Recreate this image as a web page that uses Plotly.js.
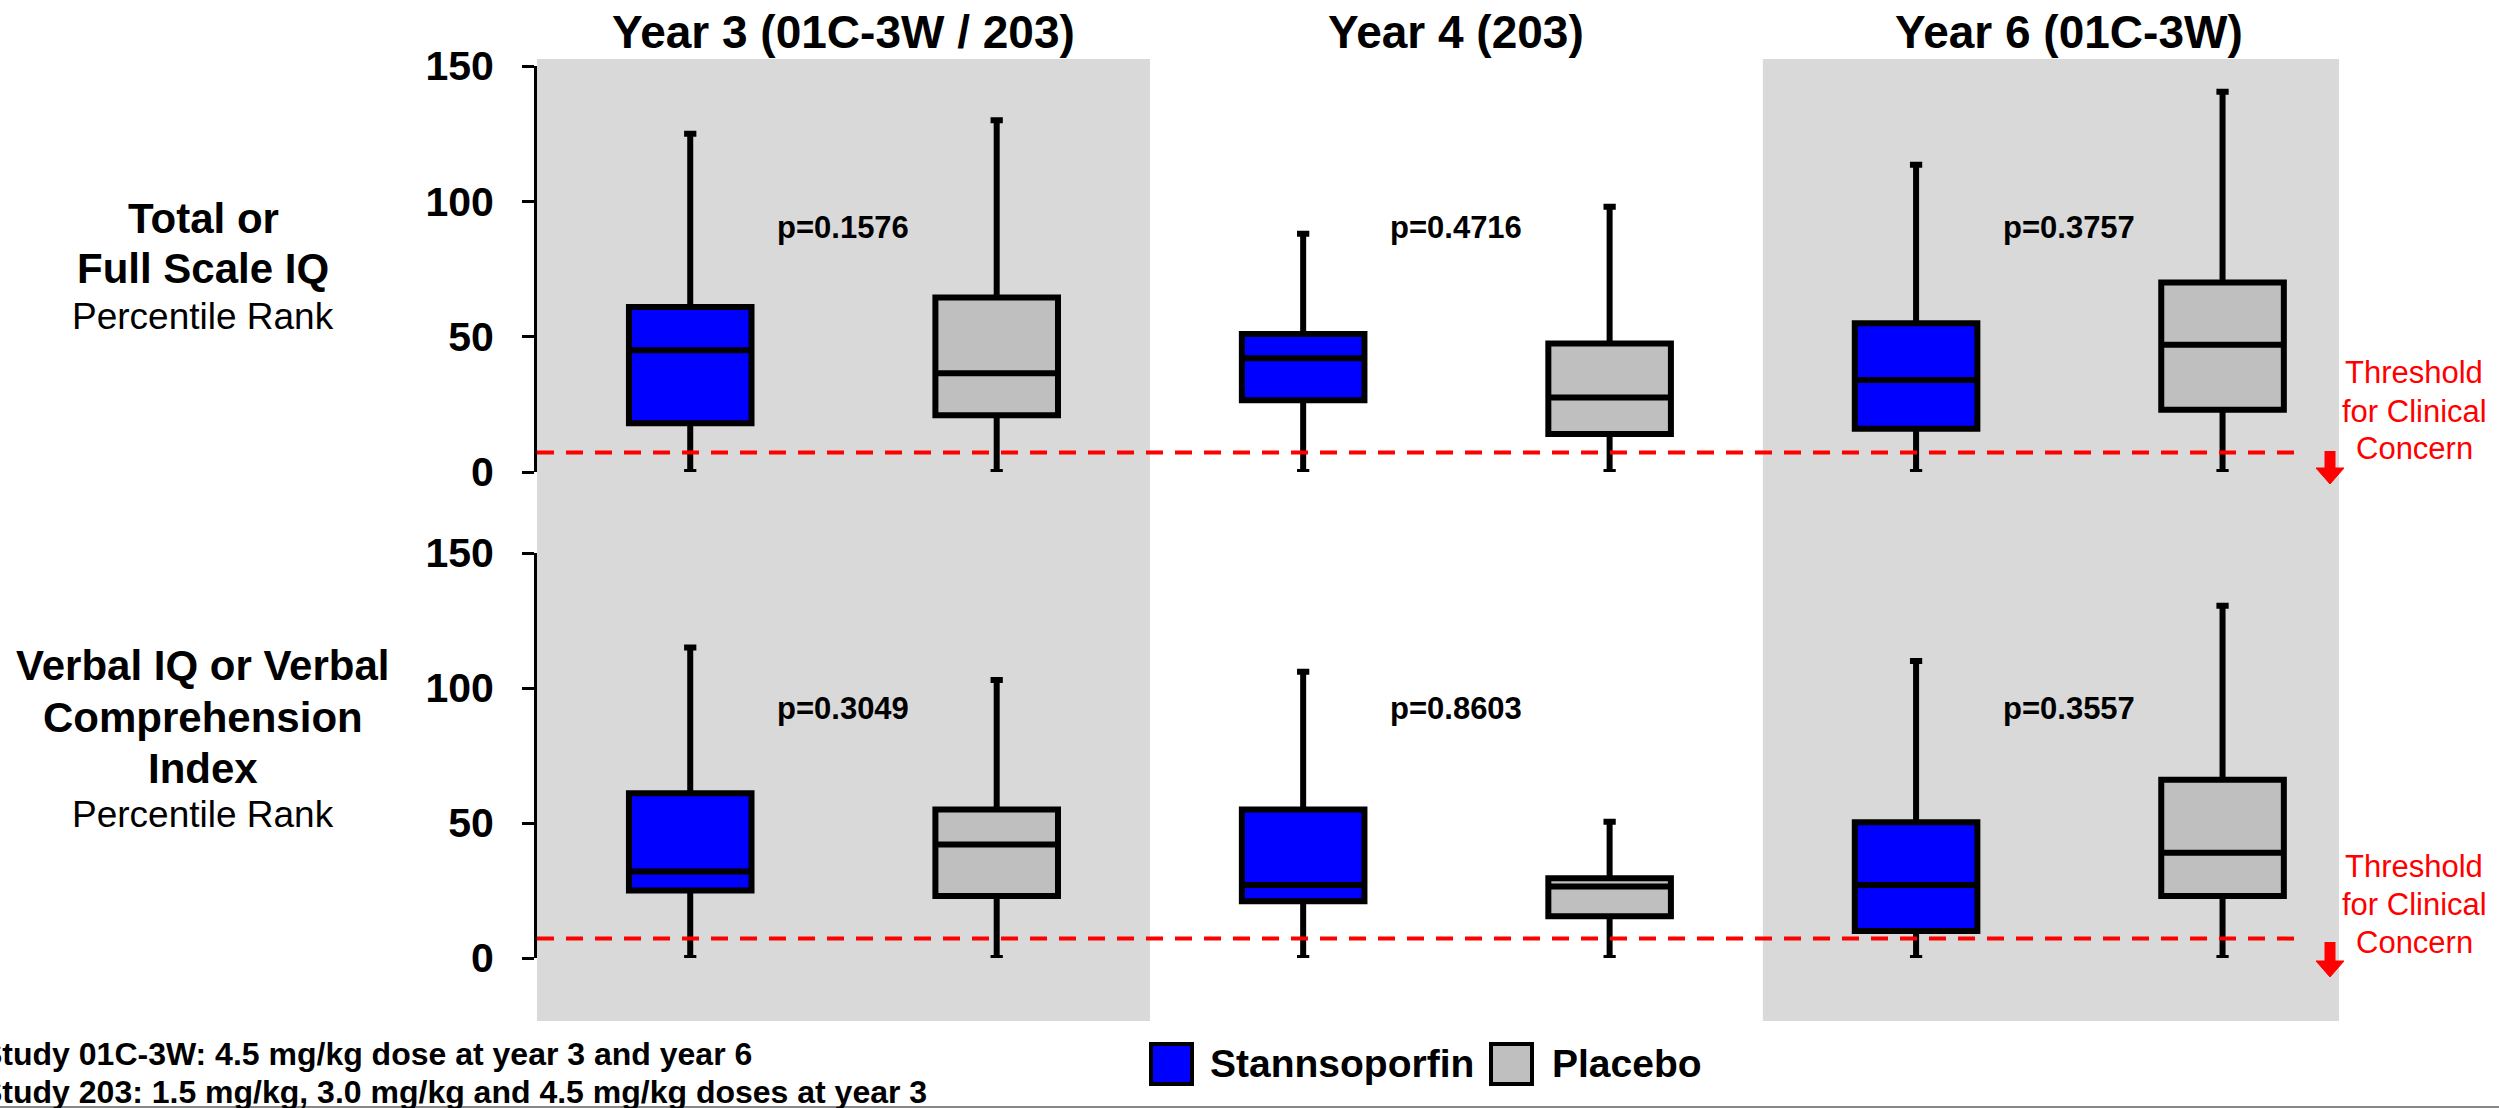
<!DOCTYPE html>
<html>
<head>
<meta charset="utf-8">
<script src="https://cdn.plot.ly/plotly-3.0.1.min.js"></script>
<style>html,body{margin:0;padding:0;background:#fff;}#chart{width:2499px;height:1108px;}</style>
</head>
<body>
<div id="chart"></div>
<script>
// ---------- DATA ----------
const periods = ['Year 3 (01C-3W / 203)', 'Year 4 (203)', 'Year 6 (01C-3W)'];
const seriesNames = ['Stannsoporfin', 'Placebo'];
const xStann = [0, 2, 4];
const xPlac = [1, 3, 5];
const xMid = [0.5, 2.5, 4.5];

// Total / Full Scale IQ percentile rank
const fsiqStannMin = [0, 0, 0];
const fsiqStannQ1 = [18, 26.5, 16];
const fsiqStannMed = [45, 42, 34];
const fsiqStannQ3 = [61, 51, 55];
const fsiqStannMax = [125, 88, 113.5];
const fsiqPlacMin = [0, 0, 0];
const fsiqPlacQ1 = [21, 14, 23];
const fsiqPlacMed = [36.5, 27.5, 47];
const fsiqPlacQ3 = [64.5, 47.5, 70];
const fsiqPlacMax = [130, 98, 140.5];
const fsiqP = ['p=0.1576', 'p=0.4716', 'p=0.3757'];

// Verbal IQ / Verbal Comprehension Index percentile rank
const viqStannMin = [0, 0, 0];
const viqStannQ1 = [25, 21, 10];
const viqStannMed = [32, 27, 27];
const viqStannQ3 = [61, 55, 50.3];
const viqStannMax = [115, 106, 110];
const viqPlacMin = [0, 0, 0];
const viqPlacQ1 = [23, 15.5, 23];
const viqPlacMed = [42, 26.5, 39];
const viqPlacQ3 = [55, 29.5, 66];
const viqPlacMax = [103, 50.5, 130.5];
const viqP = ['p=0.3049', 'p=0.8603', 'p=0.3557'];

const threshold = 7.2;
const yTicks = [0, 50, 100, 150];
const footnotes = ['Study 01C-3W: 4.5 mg/kg dose at year 3 and year 6',
                   'Study 203: 1.5 mg/kg, 3.0 mg/kg and 4.5 mg/kg doses at year 3'];

// ---------- STYLE ----------
const FONT = 'Liberation Sans, Arial, sans-serif';
const BLUE = '#0000FF', GRAYBOX = '#BFBFBF', BAND = '#D9D9D9', RED = '#FF0000';
const W = 2499, H = 1108, ML = 537, MR = 160, MT = 59, MB = 87;
const PW = W - ML - MR, PH = H - MT - MB;
const xp = px => (px - ML) / PW;
const yp = py => (H - MB - py) / PH;

function box(name, x, q1, med, q3, lo, hi, color, yaxis) {
  return {
    type: 'box', name: name, x: x, q1: q1, median: med, q3: q3,
    lowerfence: lo, upperfence: hi, yaxis: yaxis, xaxis: 'x',
    fillcolor: color, line: {color: '#000', width: 6},
    width: 0.4, whiskerwidth: 0.1, boxpoints: false,
    hoverinfo: 'skip', showlegend: false
  };
}

const data = [
  box(seriesNames[0], xStann, fsiqStannQ1, fsiqStannMed, fsiqStannQ3, fsiqStannMin, fsiqStannMax, BLUE, 'y'),
  box(seriesNames[1], xPlac, fsiqPlacQ1, fsiqPlacMed, fsiqPlacQ3, fsiqPlacMin, fsiqPlacMax, GRAYBOX, 'y'),
  box(seriesNames[0], xStann, viqStannQ1, viqStannMed, viqStannQ3, viqStannMin, viqStannMax, BLUE, 'y2'),
  box(seriesNames[1], xPlac, viqPlacQ1, viqPlacMed, viqPlacQ3, viqPlacMin, viqPlacMax, GRAYBOX, 'y2')
];

const yAxisBase = {
  range: [0, 150], tickvals: yTicks, ticktext: yTicks.map(String),
  showline: true, linecolor: '#000', linewidth: 3,
  ticks: 'outside', ticklen: 12, tickwidth: 3, tickcolor: '#000',
  showgrid: false, zeroline: false, anchor: 'x',
  tickfont: {family: FONT, size: 41, color: '#000', weight: 'bold'},
  ticklabelstandoff: 20, fixedrange: true
};

const shapes = [];
// gray bands for year 3 and year 6
[[-0.5, 1.5], [3.5, 5.38]].forEach(b => shapes.push({
  type: 'rect', xref: 'x', yref: 'paper', x0: b[0], x1: b[1], y0: 0, y1: 1,
  fillcolor: BAND, line: {width: 0}, layer: 'below'
}));
// threshold lines
['y', 'y2'].forEach(ya => shapes.push({
  type: 'line', xref: 'x', yref: ya, x0: -0.5, x1: 5.26, y0: threshold, y1: threshold,
  line: {color: RED, width: 4, dash: '17px,12px'}, layer: 'above'
}));
// red arrows
[[451, 484], [942, 977]].forEach(a => {
  const ax = 2330;
  shapes.push({type: 'line', xref: 'paper', yref: 'paper', x0: xp(ax), x1: xp(ax),
    y0: yp(a[0]), y1: yp(a[1] - 14), line: {color: RED, width: 11}});
  shapes.push({type: 'path', xref: 'paper', yref: 'paper',
    path: `M ${xp(ax - 14)} ${yp(a[1] - 16)} L ${xp(ax + 14)} ${yp(a[1] - 16)} L ${xp(ax)} ${yp(a[1])} Z`,
    fillcolor: RED, line: {color: RED, width: 1}});
});
// legend squares
[[1151, BLUE], [1491, GRAYBOX]].forEach(s => shapes.push({
  type: 'rect', xref: 'paper', yref: 'paper', x0: xp(s[0]), x1: xp(s[0] + 41),
  y0: yp(1044), y1: yp(1084), fillcolor: s[1], line: {color: '#000', width: 4}
}));
// bottom border line
shapes.push({type: 'line', xref: 'paper', yref: 'paper', x0: xp(0), x1: xp(W), y0: yp(1107), y1: yp(1107),
  line: {color: '#888', width: 2}});

const annotations = [];
function txt(text, x, y, size, opts) {
  annotations.push(Object.assign({
    text: text, x: x, y: y, xref: 'paper', yref: 'paper', showarrow: false,
    xanchor: 'center', yanchor: 'middle',
    font: {family: FONT, size: size, color: '#000'}
  }, opts || {}));
}
// column titles
periods.forEach((p, i) => annotations.push({
  text: '<b>' + p + '</b>', x: xMid[i], xref: 'x', y: yp(32), yref: 'paper', showarrow: false,
  xanchor: 'center', yanchor: 'middle', font: {family: FONT, size: 46, color: '#000'}
}));
// p-values
fsiqP.forEach((p, i) => annotations.push({
  text: '<b>' + p + '</b>', x: xMid[i], xref: 'x', y: yp(227), yref: 'paper', showarrow: false,
  xanchor: 'center', yanchor: 'middle', font: {family: FONT, size: 31, color: '#000'}
}));
viqP.forEach((p, i) => annotations.push({
  text: '<b>' + p + '</b>', x: xMid[i], xref: 'x', y: yp(708), yref: 'paper', showarrow: false,
  xanchor: 'center', yanchor: 'middle', font: {family: FONT, size: 31, color: '#000'}
}));
// row labels
const LX = xp(203);
txt('<b>Total or</b>', LX, yp(218), 42);
txt('<b>Full Scale IQ</b>', LX, yp(268), 42);
txt('Percentile Rank', LX, yp(316), 37);
txt('<b>Verbal IQ or Verbal</b>', LX, yp(665), 42);
txt('<b>Comprehension</b>', LX, yp(717), 42);
txt('<b>Index</b>', LX, yp(768), 42);
txt('Percentile Rank', LX, yp(815), 37);
// threshold labels
[[373, 411, 449], [866, 904, 942]].forEach(ys => {
  ['Threshold', 'for Clinical', 'Concern'].forEach((t, k) =>
    txt(t, xp(2414), yp(ys[k]), 31, {font: {family: FONT, size: 31, color: RED}}));
});
// legend labels
txt('<b>' + seriesNames[0] + '</b>', xp(1208), yp(1063), 39, {xanchor: 'left'});
txt('<b>' + seriesNames[1] + '</b>', xp(1550), yp(1063), 39, {xanchor: 'left'});
// footnotes (cut off at the left edge as in the original slide)
txt('<b>' + footnotes[0] + '</b>', xp(-21), yp(1054), 32, {xanchor: 'left'});
txt('<b>' + footnotes[1] + '</b>', xp(-21), yp(1092), 32, {xanchor: 'left'});

const layout = {
  width: W, height: H,
  margin: {l: ML, r: MR, t: MT, b: MB, pad: 0},
  paper_bgcolor: '#fff', plot_bgcolor: 'rgba(0,0,0,0)',
  showlegend: false,
  xaxis: {range: [-0.5, 5.38], visible: false, fixedrange: true},
  yaxis: Object.assign({}, yAxisBase, {domain: [yp(472), yp(66)]}),
  yaxis2: Object.assign({}, yAxisBase, {domain: [yp(958), yp(553)]}),
  shapes: shapes, annotations: annotations,
  font: {family: FONT}
};

Plotly.newPlot('chart', data, layout, {staticPlot: true, displayModeBar: false});
</script>
</body>
</html>
